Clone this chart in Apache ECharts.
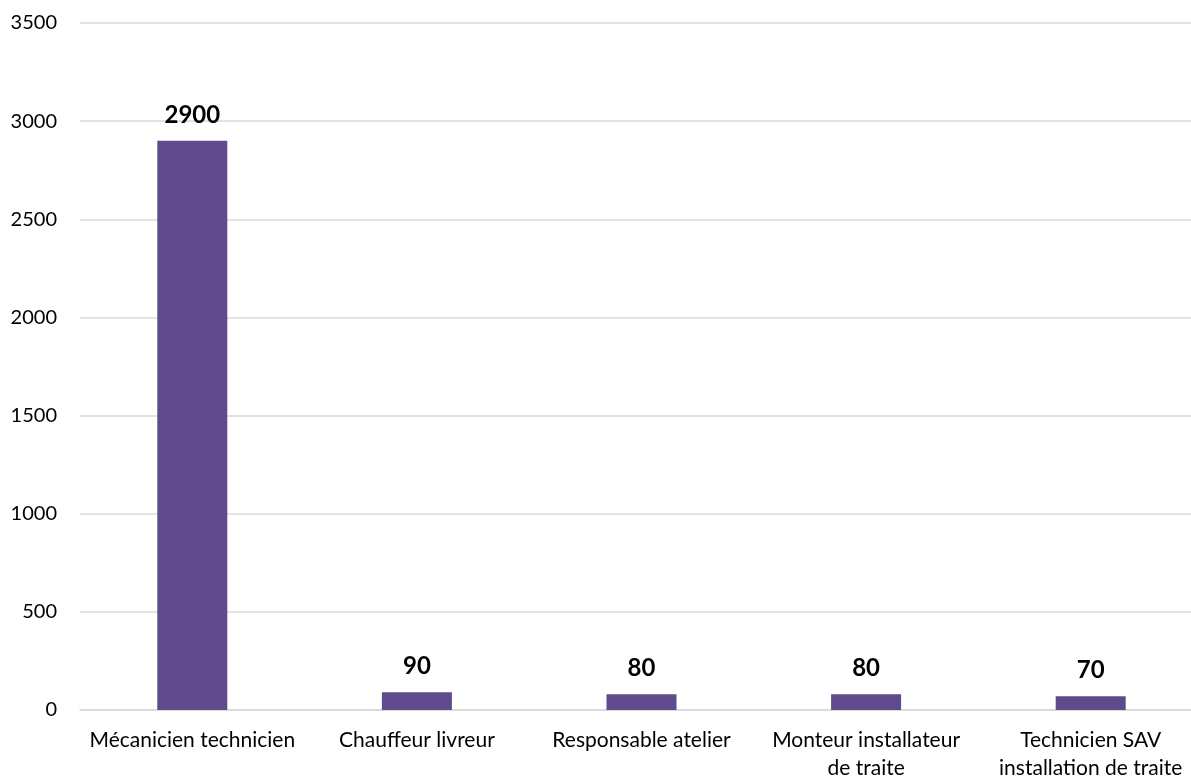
<!DOCTYPE html>
<html><head><meta charset="utf-8">
<script src="https://cdn.jsdelivr.net/npm/echarts@6/dist/echarts.min.js"></script>
<style>html,body{margin:0;padding:0;background:#fff}#c{width:1191px;height:778px}</style>
</head><body><div id="c"></div>
<script>
const categories = ["Mécanicien technicien", "Chauffeur livreur", "Responsable atelier", "Monteur installateur\nde traite", "Technicien SAV\ninstallation de traite"];
const values = [2900, 90, 80, 80, 70];
const yTicks = {min: 0, max: 3500, interval: 500};
const font = 'Lato, "Open Sans", sans-serif';
const chart = echarts.init(document.getElementById('c'));
chart.setOption({
  animation: false,
  grid: {left: 80, width: 1123, top: 23, bottom: 68, containLabel: false, outerBoundsMode: 'none'},
  xAxis: {
    type: 'category', data: categories,
    axisLine: {show: true, lineStyle: {color: '#d9d9d9', width: 1.5}},
    axisTick: {show: false},
    axisLabel: {color: '#000', fontSize: 21, fontFamily: font, margin: 16, lineHeight: 28, interval: 0}
  },
  yAxis: {
    type: 'value', min: yTicks.min, max: yTicks.max, interval: yTicks.interval,
    axisLine: {show: false}, axisTick: {show: false},
    splitLine: {lineStyle: {color: '#d9d9d9', width: 1.5}},
    axisLabel: {color: '#000', fontSize: 20, fontFamily: font, margin: 23, formatter: v => String(v)}
  },
  series: [{
    type: 'bar', data: values, barWidth: 70,
    itemStyle: {color: '#5F4B8B'},
    label: {show: true, position: 'top', distance: 14, color: '#000', fontSize: 24, fontWeight: 'bold', fontFamily: font}
  }]
});
</script></body></html>
